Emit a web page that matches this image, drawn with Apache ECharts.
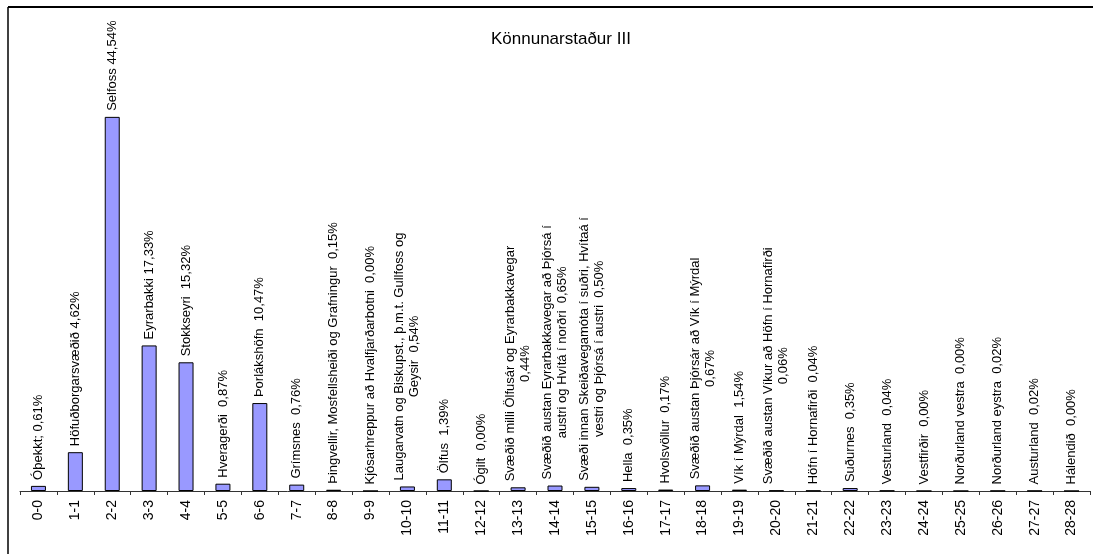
<!DOCTYPE html>
<html>
<head>
<meta charset="utf-8">
<script src="https://cdn.jsdelivr.net/npm/echarts@6/dist/echarts.min.js"></script>
<style>html,body{margin:0;padding:0;background:#fff}#c{width:1093px;height:554px}</style>
</head>
<body>
<div id="c"></div>
<script>
const titleText = "Könnunarstaður III";
const categories = ["0-0","1-1","2-2","3-3","4-4","5-5","6-6","7-7","8-8","9-9","10-10","11-11","12-12","13-13","14-14","15-15","16-16","17-17","18-18","19-19","20-20","21-21","22-22","23-23","24-24","25-25","26-26","27-27","28-28"];
const values = [0.61, 4.62, 44.54, 17.33, 15.32, 0.87, 10.47, 0.76, 0.15, 0.00, 0.54, 1.39, 0.00, 0.44, 0.65, 0.50, 0.35, 0.17, 0.67, 0.16, 0.06, 0.04, 0.35, 0.04, 0.00, 0.00, 0.02, 0.02, 0.00];
const barLabels = [
  "Óþekkt; 0,61%",
  "Höfuðborgarsvæðið 4,62%",
  "Selfoss 44,54%",
  "Eyrarbakki 17,33%",
  "Stokkseyri  15,32%",
  "Hveragerði  0,87%",
  "Þorlákshöfn  10,47%",
  "Grímsnes  0,76%",
  "Þingvellir, Mosfellsheiði og Grafningur  0,15%",
  "Kjósarhreppur að Hvalfjarðarbotni  0,00%",
  "Laugarvatn og Biskupst., þ.m.t. Gullfoss og\nGeysir  0,54%",
  "Ölfus  1,39%",
  "Ógilt  0,00%",
  "Svæðið milli Ölfusár og Eyrarbakkavegar\n0,44%",
  "Svæðið austan Eyrarbakkavegar að Þjórsá í\naustri og Hvítá í norðri  0,65%",
  "Svæði innan Skeiðavegamóta í suðri, Hvítaá í\nvestri og Þjórsá í austri  0,50%",
  "Hella  0,35%",
  "Hvolsvöllur  0,17%",
  "Svæðið austan Þjórsár að Vík í Mýrdal\n0,67%",
  "Vík í Mýrdal  1,54%",
  "Svæðið austan Víkur að Höfn í Hornafirði\n0,06%",
  "Höfn í Hornafirði  0,04%",
  "Suðurnes  0,35%",
  "Vesturland  0,04%",
  "Vestfirðir  0,00%",
  "Norðurland vestra  0,00%",
  "Norðurland eystra  0,02%",
  "Austurland  0,02%",
  "Hálendið  0,00%"
];

const FONT = "'Liberation Sans', Arial, sans-serif";
const chart = echarts.init(document.getElementById('c'), null, {renderer: 'canvas'});
chart.setOption({
  animation: false,
  backgroundColor: '#ffffff',
  title: {
    text: titleText,
    left: 486, top: 26,
    textStyle: {fontFamily: FONT, fontSize: 17, fontWeight: 'normal', color: '#000'}
  },
  grid: {left: 20, right: 3, top: 71, bottom: 63, containLabel: false},
  xAxis: {
    type: 'category',
    data: categories,
    boundaryGap: true,
    axisLine: {lineStyle: {color: '#333', width: 1}},
    axisTick: {show: true, alignWithLabel: false, length: 4, lineStyle: {color: '#333'}},
    axisLabel: {interval: 0, rotate: 90, margin: 9, fontFamily: FONT, fontSize: 14, color: '#000'}
  },
  yAxis: {
    type: 'value', min: 0, max: 50, interval: 10,
    show: false, splitLine: {show: false}
  },
  graphic: [
    {type: 'line', shape: {x1: 8, y1: 7, x2: 1093, y2: 7}, style: {stroke: '#000', lineWidth: 2}, silent: true},
    {type: 'line', shape: {x1: 8, y1: 7, x2: 8, y2: 554}, style: {stroke: '#000', lineWidth: 1.5}, silent: true}
  ],
  series: [{
    type: 'bar',
    data: values,
    barWidth: 15,
    itemStyle: {color: '#9999FF', borderColor: '#000', borderWidth: 1},
    label: {
      show: true,
      position: 'top',
      distance: 6,
      rotate: 90,
      align: 'left',
      verticalAlign: 'middle',
      formatter: function (p) {
        return barLabels[p.dataIndex].split('\n').map(function (l) { return '{c|' + l + '}'; }).join('\n');
      },
      rich: {
        c: {align: 'center', fontFamily: FONT, fontSize: 13, lineHeight: 15, color: '#000'}
      }
    }
  }]
});
</script>
</body>
</html>
